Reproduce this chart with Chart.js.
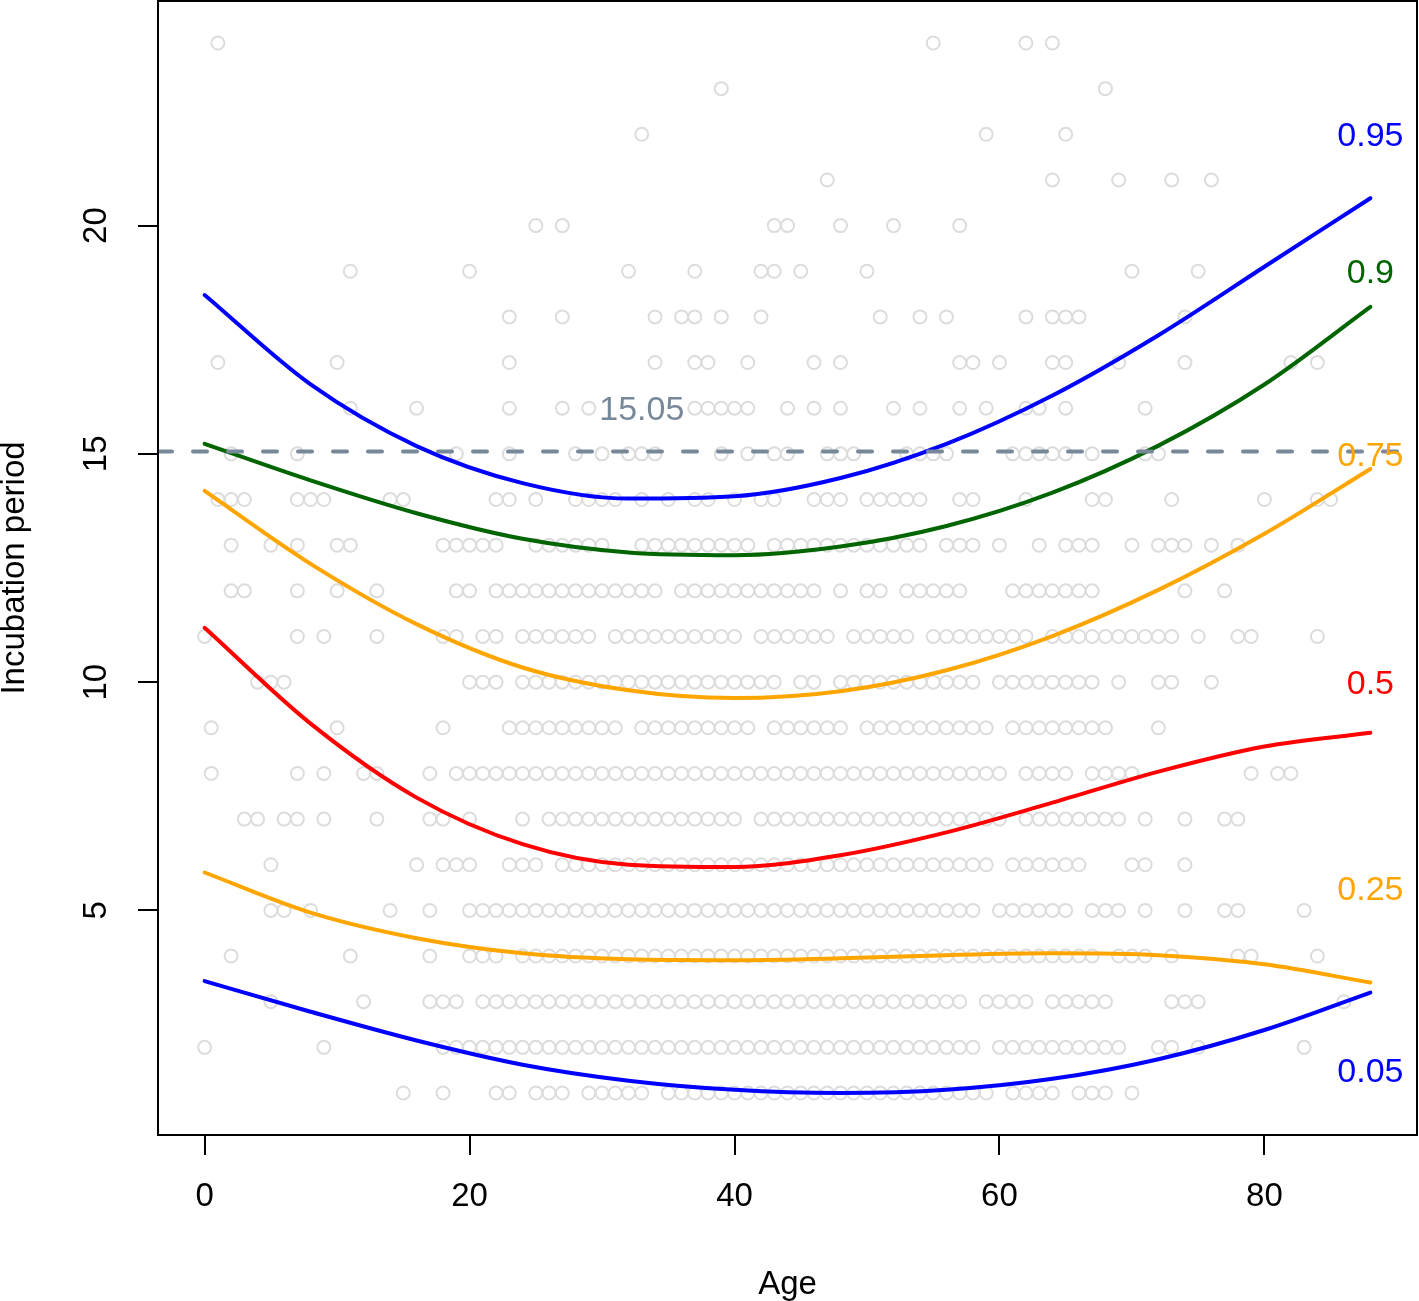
<!DOCTYPE html>
<html>
<head>
<meta charset="utf-8">
<script src="https://cdn.jsdelivr.net/npm/chart.js@4.4.0/dist/chart.umd.min.js"></script>
<style>
  html, body { margin: 0; padding: 0; background: #fff; }
  #wrap { width: 1419px; height: 1301px; }
</style>
</head>
<body>
<div id="wrap"><canvas id="chart"></canvas></div>
<script>
// ---- observed cases: ages recorded for each incubation period (days) ----
var ageDay1  = [15, 18, 22, 23, 25, 26, 27, 29, 30, 31, 32, 33, 35, 36, 37, 38, 39, 40, 41, 42, 43, 44, 45, 46, 47, 48, 49, 50, 51, 52, 53, 54, 55, 56, 57, 58, 59, 61, 62, 63, 64, 66, 67, 68, 70];
var ageDay2  = [0, 9, 18, 19, 20, 21, 22, 23, 24, 25, 26, 27, 28, 29, 30, 31, 32, 33, 34, 35, 36, 37, 38, 39, 40, 41, 42, 43, 44, 45, 46, 47, 48, 49, 50, 51, 52, 53, 54, 55, 56, 57, 58, 60, 61, 62, 63, 64, 65, 66, 67, 68, 69, 72, 73, 75, 83];
var ageDay3  = [5, 12, 17, 18, 19, 21, 22, 23, 24, 25, 26, 27, 28, 29, 30, 31, 32, 33, 34, 35, 36, 37, 38, 39, 40, 41, 42, 43, 44, 45, 46, 47, 48, 49, 50, 51, 52, 53, 54, 55, 56, 57, 59, 60, 61, 62, 64, 65, 66, 67, 68, 73, 74, 75, 86];
var ageDay4  = [2, 11, 17, 20, 21, 22, 24, 25, 26, 27, 28, 29, 30, 31, 32, 33, 34, 35, 36, 37, 38, 39, 40, 41, 42, 43, 44, 45, 46, 47, 48, 49, 50, 51, 52, 53, 54, 55, 56, 57, 58, 59, 60, 61, 62, 63, 64, 65, 66, 67, 69, 70, 71, 73, 78, 79, 84];
var ageDay5  = [5, 6, 8, 14, 17, 20, 21, 22, 23, 24, 25, 26, 27, 28, 29, 30, 31, 32, 33, 34, 35, 36, 37, 38, 39, 40, 41, 42, 43, 44, 45, 46, 47, 48, 49, 50, 51, 52, 53, 54, 55, 56, 57, 58, 60, 61, 62, 63, 64, 65, 67, 68, 69, 71, 74, 77, 78, 83];
var ageDay6  = [5, 16, 18, 19, 20, 23, 24, 25, 27, 28, 29, 30, 31, 32, 33, 34, 35, 36, 37, 38, 39, 40, 41, 42, 43, 44, 45, 46, 47, 48, 49, 50, 51, 52, 53, 54, 55, 56, 57, 58, 59, 61, 62, 63, 64, 65, 66, 70, 71, 74];
var ageDay7  = [3, 4, 6, 7, 9, 13, 17, 18, 20, 24, 26, 27, 28, 29, 30, 31, 32, 33, 34, 35, 36, 37, 38, 39, 40, 42, 43, 44, 45, 46, 47, 48, 49, 50, 51, 52, 53, 54, 55, 56, 57, 58, 59, 60, 62, 63, 64, 65, 66, 67, 68, 69, 71, 74, 77, 78];
var ageDay8  = [0.5, 7, 9, 12, 13, 17, 19, 20, 21, 22, 23, 24, 25, 26, 27, 28, 29, 30, 31, 32, 33, 34, 35, 36, 37, 38, 39, 40, 41, 42, 43, 44, 45, 46, 47, 48, 49, 50, 51, 52, 53, 54, 55, 56, 57, 58, 59, 60, 62, 63, 64, 65, 67, 68, 69, 70, 79, 81, 82];
var ageDay9  = [0.5, 10, 18, 23, 24, 25, 26, 27, 28, 29, 30, 31, 33, 34, 35, 36, 37, 38, 39, 40, 41, 43, 44, 45, 46, 47, 48, 50, 51, 52, 53, 54, 55, 56, 57, 58, 59, 61, 62, 63, 64, 65, 66, 67, 68, 72];
var ageDay10 = [4, 5, 6, 20, 21, 22, 24, 25, 26, 27, 28, 29, 30, 31, 32, 33, 34, 35, 36, 37, 38, 39, 40, 41, 42, 43, 45, 46, 48, 49, 50, 51, 52, 53, 54, 55, 56, 57, 58, 60, 61, 62, 63, 64, 65, 66, 67, 69, 72, 73, 76];
var ageDay11 = [0, 7, 9, 13, 18, 19, 21, 22, 24, 25, 26, 27, 28, 29, 31, 32, 33, 34, 35, 36, 37, 38, 39, 40, 42, 43, 44, 45, 46, 47, 49, 50, 51, 52, 53, 55, 56, 57, 58, 59, 60, 61, 62, 64, 65, 66, 67, 68, 69, 70, 71, 72, 73, 75, 78, 79, 84];
var ageDay12 = [2, 3, 7, 10, 13, 19, 20, 22, 23, 24, 25, 26, 27, 28, 29, 30, 31, 32, 33, 34, 36, 37, 38, 39, 40, 41, 42, 43, 44, 45, 46, 48, 50, 51, 53, 54, 55, 56, 57, 61, 62, 63, 64, 65, 66, 67, 74, 77];
var ageDay13 = [2, 5, 7, 10, 11, 18, 19, 20, 21, 22, 25, 26, 27, 28, 29, 30, 33, 34, 35, 36, 37, 38, 39, 40, 41, 43, 44, 45, 46, 47, 48, 49, 50, 51, 52, 53, 54, 56, 57, 58, 60, 63, 65, 66, 67, 70, 72, 73, 74, 76, 78];
var ageDay14 = [1, 2, 3, 7, 8, 9, 14, 15, 22, 23, 25, 28, 29, 30, 31, 33, 35, 37, 38, 40, 42, 43, 46, 47, 48, 50, 51, 52, 53, 54, 57, 58, 62, 67, 68, 73, 80, 84, 85];
var ageDay15 = [2, 7, 19, 23, 28, 30, 32, 33, 34, 39, 41, 43, 44, 47, 48, 49, 53, 54, 55, 56, 61, 62, 63, 64, 65, 67, 71, 72];
var ageDay16 = [11, 16, 23, 27, 29, 37, 38, 39, 40, 41, 44, 46, 48, 52, 54, 57, 59, 62, 63, 65, 71];
var ageDay17 = [1, 10, 23, 34, 37, 38, 41, 46, 48, 57, 58, 60, 64, 65, 69, 74, 82, 84];
var ageDay18 = [23, 27, 34, 36, 37, 39, 42, 51, 54, 56, 62, 64, 65, 66, 74];
var ageDay19 = [11, 20, 32, 37, 42, 43, 45, 50, 70, 75];
var ageDay20 = [25, 27, 43, 44, 48, 52, 57];
var ageDay21 = [47, 64, 69, 73, 76];
var ageDay22 = [33, 59, 65];
var ageDay23 = [39, 68];
var ageDay24 = [1, 55, 62, 64];

// ---- fitted quantile curves, read at these ages ----
var curveAges = [0, 8, 16, 24, 32, 40, 48, 56, 64, 72, 80, 88];
var q05 = [3.45, 2.78, 2.15, 1.62, 1.27, 1.07, 1.00, 1.07, 1.31, 1.74, 2.38, 3.20];
var q25 = [5.83, 4.95, 4.39, 4.06, 3.93, 3.91, 3.95, 4.02, 4.06, 4.02, 3.82, 3.42];
var q50 = [11.19, 9.09, 7.47, 6.45, 6.00, 5.95, 6.21, 6.71, 7.36, 8.04, 8.59, 8.89];
var q75 = [14.19, 12.59, 11.27, 10.32, 9.82, 9.65, 9.80, 10.26, 11.01, 12.02, 13.25, 14.67];
var q90 = [15.22, 14.42, 13.70, 13.14, 12.84, 12.78, 12.97, 13.42, 14.15, 15.18, 16.52, 18.22];
var q95 = [18.48, 16.52, 15.17, 14.36, 14.02, 14.07, 14.47, 15.22, 16.28, 17.60, 19.10, 20.60];

var refLevel = 15.05;
var refLabel = '15.05';

var quantileNames  = ['0.95', '0.9', '0.75', '0.5', '0.25', '0.05'];
var quantileColors = ['#0000ff', '#006400', '#ffa500', '#ff0000', '#ffa500', '#0000ff'];
var labelY = [22, 19, 15, 10, 5.5, 1.5];

var xTicks = [0, 20, 40, 60, 80];
var yTicks = [5, 10, 15, 20];

// ---- build datasets ----
var dayRows = [ageDay1, ageDay2, ageDay3, ageDay4, ageDay5, ageDay6, ageDay7, ageDay8,
  ageDay9, ageDay10, ageDay11, ageDay12, ageDay13, ageDay14, ageDay15, ageDay16,
  ageDay17, ageDay18, ageDay19, ageDay20, ageDay21, ageDay22, ageDay23, ageDay24];

var cases = [];
dayRows.forEach(function(ages, i) {
  ages.forEach(function(a) { cases.push({ x: a, y: i + 1 }); });
});

function curve(vals) {
  return curveAges.map(function(a, i) { return { x: a, y: vals[i] }; });
}

var FONT = '"Liberation Sans", Arial, Helvetica, sans-serif';
Chart.defaults.font.family = FONT;
Chart.defaults.color = '#000';

var curveSeries = [q95, q90, q75, q50, q25, q05];
var datasets = [{
  label: 'cases', data: cases, order: 3,
  pointRadius: 6.5, pointBorderWidth: 2, pointBorderColor: '#dcdcdc',
  pointBackgroundColor: 'rgba(0,0,0,0)', showLine: false
}, {
  label: 'ref', order: 1,
  data: [{ x: -3.52, y: refLevel }, { x: 91.52, y: refLevel }],
  showLine: true, pointRadius: 0, borderColor: '#778899', borderWidth: 4,
  borderDash: [14, 21], borderCapStyle: 'round'
}];
curveSeries.forEach(function(s, i) {
  datasets.push({
    label: quantileNames[i], data: curve(s), order: 2,
    showLine: true, pointRadius: 0, borderColor: quantileColors[i],
    borderWidth: 4, cubicInterpolationMode: 'monotone', borderCapStyle: 'round'
  });
});

// box round the plot + text labels
var decorations = {
  id: 'decorations',
  afterDatasetsDraw: function(chart) {
    var ctx = chart.ctx, xs = chart.scales.x, ys = chart.scales.y;
    ctx.save();
    ctx.font = '34px ' + FONT;
    ctx.textAlign = 'center';
    ctx.textBaseline = 'alphabetic';
    quantileNames.forEach(function(n, i) {
      ctx.fillStyle = quantileColors[i];
      ctx.fillText(n, xs.getPixelForValue(88), ys.getPixelForValue(labelY[i]) + 12);
    });
    ctx.fillStyle = '#778899';
    ctx.fillText(refLabel, xs.getPixelForValue(33), ys.getPixelForValue(16) + 12);
    ctx.restore();
  },
  afterDraw: function(chart) {
    var a = chart.chartArea, ctx = chart.ctx;
    ctx.save();
    ctx.strokeStyle = '#000';
    ctx.lineWidth = 2;
    ctx.strokeRect(a.left, a.top, a.right - a.left, a.bottom - a.top);
    ctx.restore();
  }
};

new Chart(document.getElementById('chart').getContext('2d'), {
  type: 'scatter',
  data: { datasets: datasets },
  plugins: [decorations],
  options: {
    responsive: true, maintainAspectRatio: false,
    animation: false,
    layout: { autoPadding: false, padding: { top: 1, right: 2, left: 0, bottom: 0 } },
    plugins: { legend: { display: false }, tooltip: { enabled: false } },
    scales: {
      x: {
        type: 'linear', min: -3.52, max: 91.52,
        afterBuildTicks: function(s) { s.ticks = xTicks.map(function(v) { return { value: v }; }); },
        afterFit: function(s) { s.height = 166; s.paddingLeft = 0; s.paddingRight = 0; },
        ticks: { font: { size: 33 }, color: '#000', padding: 22, maxRotation: 0 },
        grid: { drawOnChartArea: false, tickLength: 20, color: '#000', lineWidth: 2 },
        border: { display: false },
        title: { display: true, text: 'Age', color: '#000', font: { size: 33, lineHeight: 1.0 }, padding: 0 }
      },
      y: {
        type: 'linear', min: 0.08, max: 24.92,
        afterBuildTicks: function(s) { s.ticks = yTicks.map(function(v) { return { value: v }; }); },
        afterFit: function(s) { s.width = 158; s.paddingTop = 0; s.paddingBottom = 0; },
        ticks: { font: { size: 33 }, color: '#000', padding: 23, minRotation: 90, maxRotation: 90, crossAlign: 'center' },
        grid: { drawOnChartArea: false, tickLength: 20, color: '#000', lineWidth: 2 },
        border: { display: false },
        title: { display: true, text: 'Incubation period', color: '#000', font: { size: 33, lineHeight: 0.9 }, padding: 0 }
      }
    }
  }
});
</script>
</body>
</html>
